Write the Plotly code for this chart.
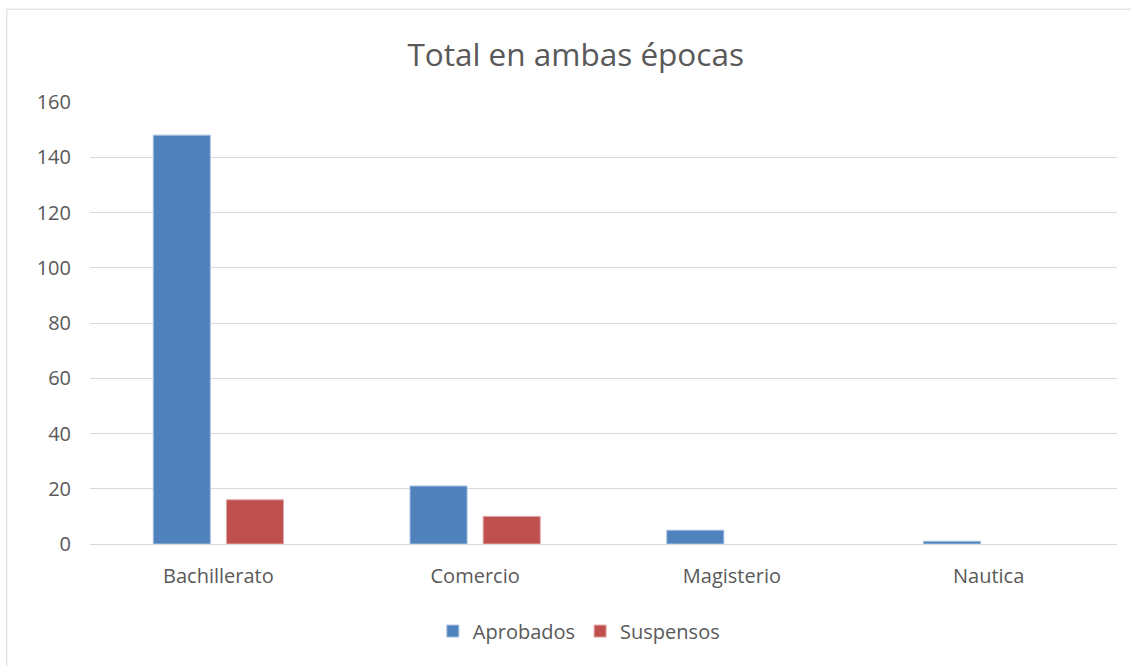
import plotly.graph_objects as go

categorias = ["Bachillerato", "Comercio", "Magisterio", "Nautica"]
aprobados = [148, 21, 5, 1]
suspensos = [16, 10, 0, 0]
ticks_y = [0, 20, 40, 60, 80, 100, 120, 140, 160]

azul = "#4f81bd"
rojo = "#c0504d"
gris_texto = "#595959"
gris_linea = "#d9d9d9"


def bordes(valores):
    # thin light outline only on bars that actually have height
    return [1 if v > 0 else 0 for v in valores]


fig = go.Figure()
fig.add_trace(go.Bar(x=categorias, y=aprobados, name="Aprobados",
                     marker=dict(color=azul,
                                 line=dict(color="#a9c1e0", width=bordes(aprobados)))))
fig.add_trace(go.Bar(x=categorias, y=suspensos, name="Suspensos",
                     marker=dict(color=rojo,
                                 line=dict(color="#e0a9a8", width=bordes(suspensos)))))

fig.update_layout(
    width=1131, height=666,
    margin=dict(l=90, r=14, t=102, b=122),
    paper_bgcolor="white", plot_bgcolor="white",
    barmode="group", bargap=0.43, bargroupgap=0.22,
    font=dict(family="Open Sans, Liberation Sans, sans-serif", color=gris_texto, size=20),
    title=dict(text="Total en ambas épocas", x=0.509, xanchor="center",
               y=0.917, yanchor="middle",
               font=dict(size=31.5, color=gris_texto)),
    legend=dict(orientation="h", x=0.476, xanchor="center", y=-0.197, yanchor="middle",
                font=dict(size=20, color=gris_texto), itemwidth=30,
                traceorder="normal"),
    showlegend=True,
)
fig.update_yaxes(range=[0, 160], tickvals=ticks_y, showgrid=True, gridcolor=gris_linea,
                 gridwidth=1, zeroline=False, showline=False, ticks="",
                 ticklabelstandoff=18, tickfont=dict(size=20, color=gris_texto))
fig.update_xaxes(showline=True, linecolor=gris_linea, linewidth=1, ticks="",
                 tickfont=dict(size=20, color=gris_texto), ticklabelstandoff=14)

# outer chart frame
fig.add_shape(type="rect", xref="paper", yref="paper",
              x0=-0.081, x1=1.02, y0=-0.3, y1=1.21,
              line=dict(color=gris_linea, width=1), fillcolor="rgba(0,0,0,0)",
              layer="below")

fig.write_html("out.html")
